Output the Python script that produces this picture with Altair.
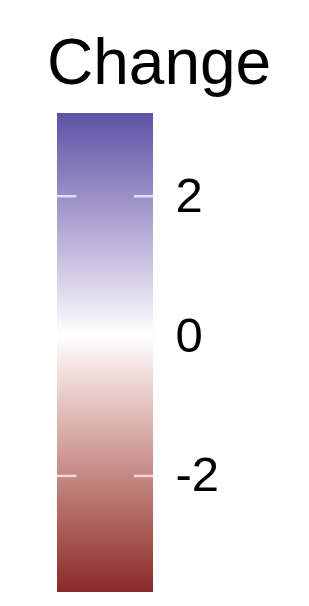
import altair as alt
import pandas as pd

# ---- data ----
change_range = [-3.66, 3.19]          # min / max of "Change"
break_values = [-2, 0, 2]             # legend breaks
low_color = "#88282a"
mid_color = "#ffffff"
high_color = "#5c53a6"
title_text = "Change"

FONT = "Liberation Sans"
W, H = 96, 479
N_STEPS = 12  # gradient stops per half (Lab interpolation, like ggplot)


# ---- colour helpers (sRGB <-> CIELAB) ----
def _hex_to_rgb(h):
    h = h.lstrip("#")
    return [int(h[i:i + 2], 16) / 255 for i in (0, 2, 4)]


def _lin(c):
    return c / 12.92 if c <= 0.04045 else ((c + 0.055) / 1.055) ** 2.4


def _delin(c):
    c = max(0.0, min(1.0, c))
    return 12.92 * c if c <= 0.0031308 else 1.055 * c ** (1 / 2.4) - 0.055


_WHITE = (0.95047, 1.0, 1.08883)


def _to_lab(h):
    r, g, b = [_lin(c) for c in _hex_to_rgb(h)]
    x = 0.4124 * r + 0.3576 * g + 0.1805 * b
    y = 0.2126 * r + 0.7152 * g + 0.0722 * b
    z = 0.0193 * r + 0.1192 * g + 0.9505 * b

    def f(t):
        return t ** (1 / 3) if t > 216 / 24389 else (24389 / 27 * t + 16) / 116

    fx, fy, fz = f(x / _WHITE[0]), f(y / _WHITE[1]), f(z / _WHITE[2])
    return (116 * fy - 16, 500 * (fx - fy), 200 * (fy - fz))


def _from_lab(L, a, b):
    fy = (L + 16) / 116
    fx = fy + a / 500
    fz = fy - b / 200

    def finv(t):
        return t ** 3 if t ** 3 > 216 / 24389 else (116 * t - 16) / (24389 / 27)

    x, y, z = finv(fx) * _WHITE[0], finv(fy) * _WHITE[1], finv(fz) * _WHITE[2]
    r = 3.2406 * x - 1.5372 * y - 0.4986 * z
    g = -0.9689 * x + 1.8758 * y + 0.0415 * z
    bb = 0.0557 * x - 0.2040 * y + 1.0570 * z
    return "#" + "".join(f"{round(_delin(c) * 255):02x}" for c in (r, g, bb))


def _mix(c1, c2, t):
    l1, l2 = _to_lab(c1), _to_lab(c2)
    return _from_lab(*[p + (q - p) * t for p, q in zip(l1, l2)])


lo, hi = min(change_range), max(change_range)
mid_offset = (0 - lo) / (hi - lo)

stops = []
for i in range(N_STEPS + 1):
    t = i / N_STEPS
    stops.append(alt.GradientStop(offset=mid_offset * t, color=_mix(low_color, mid_color, t)))
for i in range(1, N_STEPS + 1):
    t = i / N_STEPS
    stops.append(alt.GradientStop(offset=mid_offset + (1 - mid_offset) * t,
                                  color=_mix(mid_color, high_color, t)))

bar_df = pd.DataFrame({"low": [lo], "high": [hi]})
tick_df = pd.DataFrame({"value": break_values})

yscale = alt.Scale(domain=[lo, hi], nice=False, zero=False)
yaxis = alt.Axis(
    orient="right", values=break_values, title=None, domain=False, ticks=False,
    tickSize=0, grid=False, labelFontSize=49, labelFont=FONT, labelColor="black",
    labelPadding=22, labelExpr="replace(datum.label, '\u2212', '-')",
    labelFlush=False, labelOverlap=False,
)

bar = alt.Chart(bar_df).mark_rect(
    color=alt.Gradient(gradient="linear", x1=0, y1=1, x2=0, y2=0, stops=stops)
).encode(
    x=alt.value(0), x2=alt.value(W),
    y=alt.Y("low:Q", scale=yscale, axis=yaxis),
    y2="high:Q",
)

tick_base = alt.Chart(tick_df).mark_rule(color="white", opacity=0.7, strokeWidth=2.5)
left_ticks = tick_base.encode(
    y=alt.Y("value:Q", scale=yscale, axis=yaxis), x=alt.value(0), x2=alt.value(W / 5)
)
right_ticks = tick_base.encode(
    y=alt.Y("value:Q", scale=yscale, axis=yaxis), x=alt.value(W - W / 5), x2=alt.value(W)
)

chart = alt.layer(bar, left_ticks, right_ticks).properties(
    width=W, height=H,
    autosize="none",
    padding={"left": 49, "top": 105, "right": 140, "bottom": 0},
    background="white",
    title=alt.TitleParams(
        text=title_text, anchor="start", frame="group", fontSize=64, font=FONT,
        fontWeight="normal", color="black", dx=-10, dy=60, offset=25, baseline="alphabetic",
    ),
).configure_view(stroke=None)

chart.save("out.html", embed_options={"renderer": "svg", "actions": False})
